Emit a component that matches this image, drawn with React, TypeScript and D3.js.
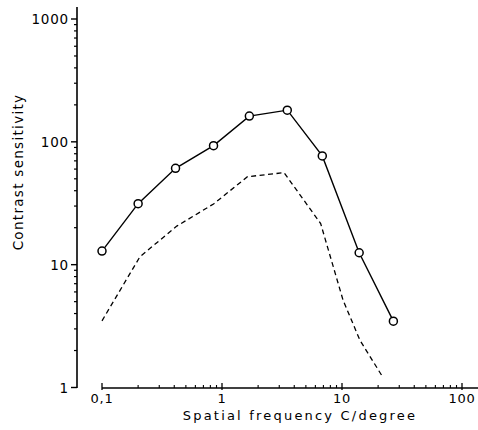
import React from "react";
import * as d3 from "d3";

const freqSolid = [0.1, 0.2, 0.41, 0.85, 1.69, 3.5, 6.85, 13.9, 26.8];
const sensSolid = [12.9, 31.4, 60.9, 93.1, 162, 181, 76.8, 12.5, 3.47];

const freqDashed = [0.1, 0.207, 0.42, 0.85, 1.63, 3.29, 6.64, 10.2, 14.1, 21.8];
const sensDashed = [3.49, 11.6, 20.6, 31.2, 52, 56.1, 21.6, 5.15, 2.43, 1.22];

const yTickValues = [1, 10, 100, 1000];
const yTickLabels = ["1", "10", "100", "1000"];
const xTickValues = [0.1, 1, 10, 100];
const xTickLabels = ["0,1", "1", "10", "100"];

const xTitle = "Spatial frequency C/degree";
const yTitle = "Contrast sensitivity";

export default function App() {
  const W = 478;
  const H = 430;
  const x = d3.scaleLog().domain([0.1, 100]).range([102, 462]);
  const y = d3.scaleLog().domain([1, 1000]).range([387.5, 19]);
  const axisX = 77;
  const axisY = 388;

  const line = d3
    .line<[number, number]>()
    .x((d) => x(d[0]))
    .y((d) => y(d[1]));

  const solidPts: [number, number][] = freqSolid.map((f, i) => [f, sensSolid[i]]);
  const dashedPts: [number, number][] = freqDashed.map((f, i) => [f, sensDashed[i]]);

  const yMinor: number[] = [];
  for (let dec = 1; dec < 1000; dec *= 10) {
    for (let k = 2; k <= 9; k++) yMinor.push(dec * k);
  }
  const xMinor: number[] = [];
  for (let dec = 0.1; dec < 99; dec *= 10) {
    for (let k = 2; k <= 9; k++) xMinor.push(dec * k);
  }

  const font = "'DejaVu Sans', sans-serif";

  return (
    <svg
      width={W}
      height={H}
      style={{ position: "absolute", left: 0, top: 0, background: "#fff" }}
    >
      {/* Y axis */}
      <line x1={axisX} x2={axisX} y1={7} y2={axisY} stroke="#000" strokeWidth={1.6} />
      {yTickValues.map((v) => (
        <line key={"yM" + v} x1={axisX - 6} x2={axisX} y1={y(v)} y2={y(v)} stroke="#000" strokeWidth={1.4} />
      ))}
      {yMinor.map((v) => (
        <line key={"ym" + v} x1={axisX - 3} x2={axisX} y1={y(v)} y2={y(v)} stroke="#000" strokeWidth={1.2} />
      ))}
      {yTickValues.map((v, i) => (
        <text
          key={"yl" + v}
          x={69}
          y={y(v) + 5}
          textAnchor="end"
          fontFamily={font}
          fontSize={13.5}
          letterSpacing={0.8}
          fill="#000"
        >
          {yTickLabels[i]}
        </text>
      ))}
      <text
        transform={`translate(23, 172) rotate(-90)`}
        textAnchor="middle"
        fontFamily={font}
        fontSize={13.5}
        letterSpacing={1.3}
        fill="#000"
      >
        {yTitle}
      </text>

      {/* X axis */}
      <line x1={x(0.1)} x2={W} y1={axisY} y2={axisY} stroke="#000" strokeWidth={1.6} />
      {xTickValues.map((v) => (
        <line key={"xM" + v} x1={x(v)} x2={x(v)} y1={axisY - 5} y2={axisY + 2} stroke="#000" strokeWidth={1.3} />
      ))}
      {xMinor.map((v) => (
        <line key={"xm" + v} x1={x(v)} x2={x(v)} y1={axisY - 3} y2={axisY} stroke="#000" strokeWidth={1.1} />
      ))}
      {xTickValues.map((v, i) => (
        <text
          key={"xl" + v}
          x={x(v)}
          y={403}
          textAnchor="middle"
          fontFamily={font}
          fontSize={13}
          letterSpacing={0.8}
          fill="#000"
        >
          {xTickLabels[i]}
        </text>
      ))}
      <text
        x={300}
        y={420}
        textAnchor="middle"
        fontFamily={font}
        fontSize={13}
        letterSpacing={2.2}
        fill="#000"
      >
        {xTitle}
      </text>

      {/* Dashed curve */}
      <path
        d={line(dashedPts) || ""}
        fill="none"
        stroke="#000"
        strokeWidth={1.3}
        strokeDasharray="5,3.5"
      />

      {/* Solid curve with circles */}
      <path d={line(solidPts) || ""} fill="none" stroke="#000" strokeWidth={1.4} />
      {solidPts.map((d, i) => (
        <circle
          key={"c" + i}
          cx={x(d[0])}
          cy={y(d[1])}
          r={4}
          fill="#fff"
          stroke="#000"
          strokeWidth={1.5}
        />
      ))}
    </svg>
  );
}
